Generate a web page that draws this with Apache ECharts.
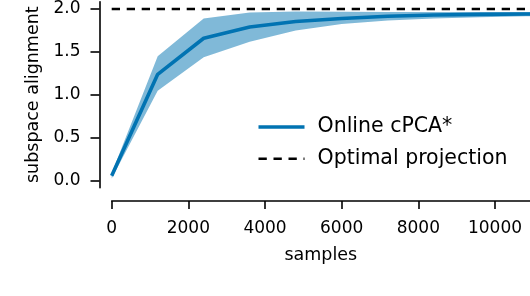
<!DOCTYPE html>
<html>
<head>
<meta charset="utf-8">
<script src="https://cdn.jsdelivr.net/npm/echarts@6/dist/echarts.min.js"></script>
<style>
html,body{margin:0;padding:0;background:#fff;}
#chart{width:530px;height:296px;}
</style>
</head>
<body>
<div id="chart"></div>
<script>
// ---- data ----
const samples   = [0, 1200, 2400, 3600, 4800, 6000, 7200, 8400, 9600, 10800, 12000];
const meanAlign = [0.06, 1.24, 1.66, 1.79, 1.855, 1.89, 1.915, 1.93, 1.938, 1.942, 1.946];
const lowerBand = [0.03, 1.05, 1.44, 1.62, 1.75, 1.825, 1.865, 1.89, 1.905, 1.915, 1.92];
const upperBand = [0.09, 1.45, 1.89, 1.96, 1.97, 1.967, 1.966, 1.966, 1.966, 1.966, 1.966];
const optimalX  = [0, 12000];
const optimalY  = [2.0, 2.0];
const xTicks    = [0, 2000, 4000, 6000, 8000, 10000];
const yTicks    = [0.0, 0.5, 1.0, 1.5, 2.0];
const seriesNames = ['Online cPCA*', 'Optimal projection'];

const FONT = 'DejaVu Sans';
const BLUE = '#0173b2';
const BAND = 'rgba(1,115,178,0.5)';

const pairs = (xs, ys) => xs.map((x, i) => [x, ys[i]]);

const chart = echarts.init(document.getElementById('chart'), null, {renderer: 'canvas'});
chart.setOption({
  backgroundColor: '#ffffff',
  animation: false,
  textStyle: {fontFamily: FONT, color: '#000'},
  grid: {left: 111.7, right: 0, top: 1.7, bottom: 108.3, containLabel: false},
  legend: {
    data: [
      {name: seriesNames[0], lineStyle: {width: 3.6, color: BLUE}},
      {name: seriesNames[1], lineStyle: {width: 2.4, color: '#000', type: [8.3, 6.7]}}
    ],
    orient: 'vertical',
    left: 256.7,
    top: 116.5,
    padding: 0,
    itemWidth: 46,
    itemHeight: 14,
    itemGap: 10.8,
    itemStyle: {opacity: 0},
    textStyle: {fontFamily: FONT, fontSize: 20.5, color: '#000', padding: [0, 0, 0, 8]},
    selectedMode: false
  },
  xAxis: {
    type: 'value',
    min: 0,
    max: 10913,
    offset: 13.3,
    name: 'samples',
    nameLocation: 'middle',
    nameGap: 45,
    nameTextStyle: {fontFamily: FONT, fontSize: 17.5, color: '#000'},
    axisLine: {show: true, onZero: false, lineStyle: {color: '#000', width: 1.6}},
    axisTick: {show: true, length: 8, lineStyle: {color: '#000', width: 1.6}, customValues: xTicks},
    axisLabel: {fontFamily: FONT, fontSize: 17, color: '#000', margin: 19, customValues: xTicks,
                formatter: v => String(v)},
    splitLine: {show: false}
  },
  yAxis: {
    type: 'value',
    min: -0.078,
    max: 2.085,
    offset: 12.2,
    name: 'subspace alignment',
    nameLocation: 'middle',
    nameRotate: 90,
    nameGap: 57,
    nameTextStyle: {fontFamily: FONT, fontSize: 17.5, color: '#000'},
    axisLine: {show: true, onZero: false, lineStyle: {color: '#000', width: 1.6}},
    axisTick: {show: true, length: 9, lineStyle: {color: '#000', width: 1.6}, customValues: yTicks},
    axisLabel: {fontFamily: FONT, fontSize: 17, color: '#000', margin: 19, customValues: yTicks,
                formatter: v => v.toFixed(1)},
    splitLine: {show: false}
  },
  series: [
    {
      name: 'band',
      type: 'custom',
      silent: true,
      clip: true,
      data: [[samples[0], lowerBand[0]]],
      renderItem: function (params, api) {
        const top = samples.map((x, i) => api.coord([x, upperBand[i]]));
        const bot = samples.map((x, i) => api.coord([x, lowerBand[i]])).reverse();
        return {
          type: 'polygon',
          shape: {points: top.concat(bot)},
          style: {fill: BAND, stroke: null}
        };
      },
      z: 1
    },
    {
      name: seriesNames[0],
      type: 'line',
      data: pairs(samples, meanAlign),
      symbol: 'none',
      color: BLUE,
      lineStyle: {color: BLUE, width: 3.6},
      z: 3
    },
    {
      name: seriesNames[1],
      type: 'line',
      data: pairs(optimalX, optimalY),
      symbol: 'none',
      color: '#000',
      lineStyle: {color: '#000', width: 2.4, type: [8.3, 6.7]},
      z: 4
    }
  ]
});
</script>
</body>
</html>
